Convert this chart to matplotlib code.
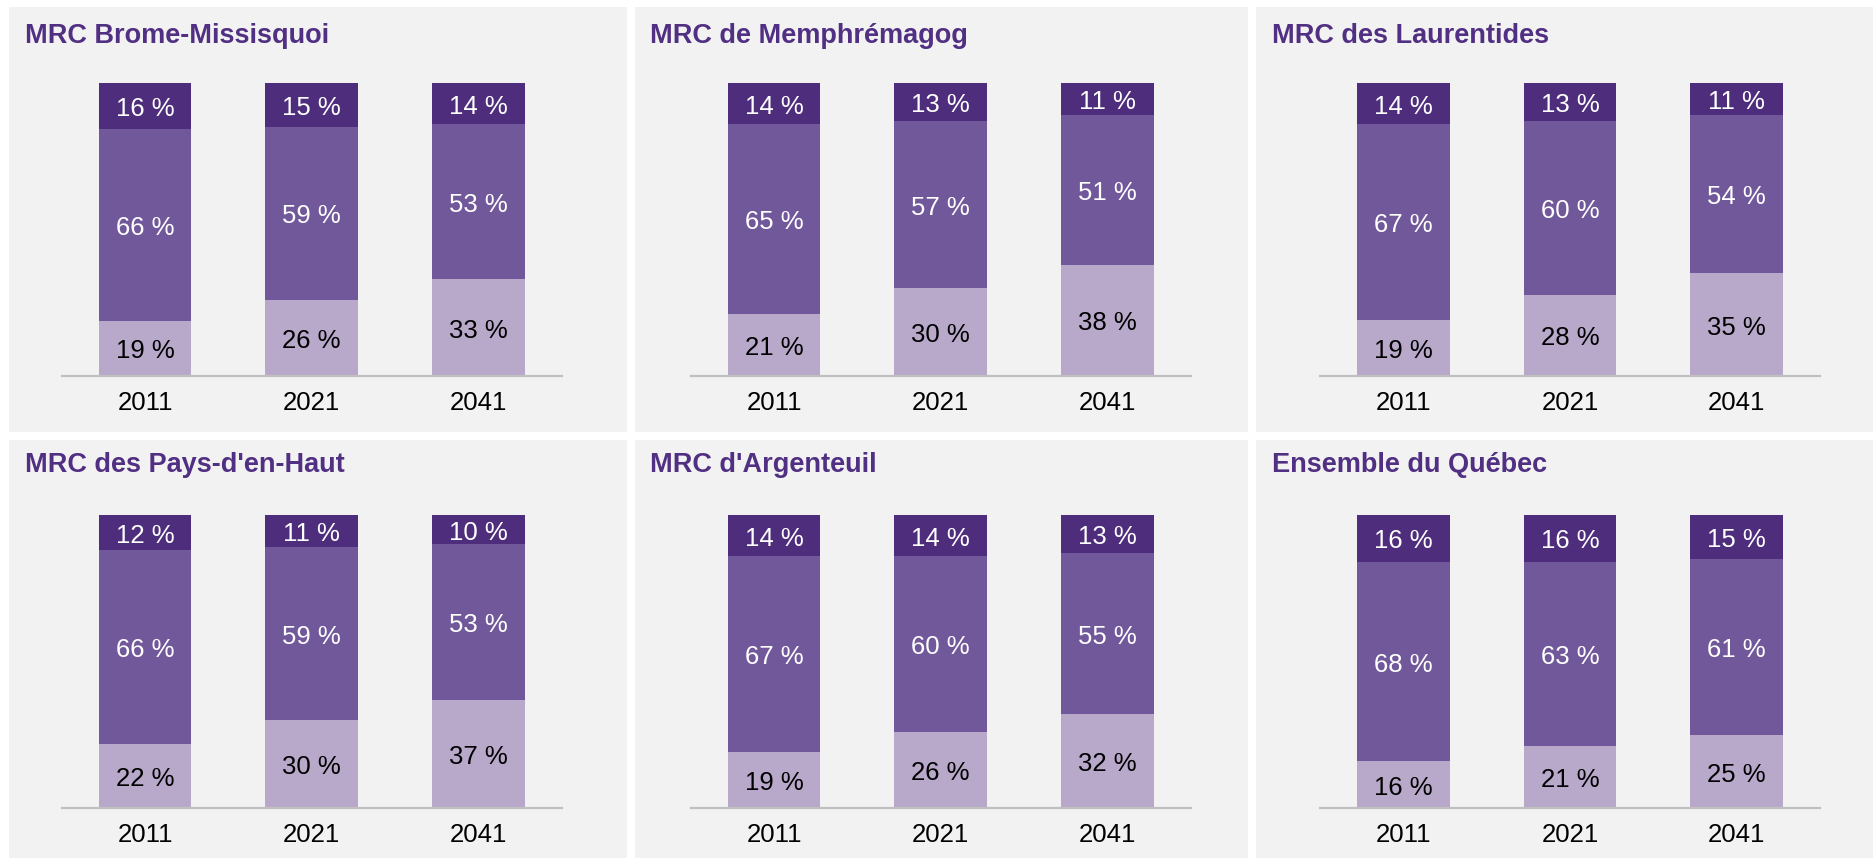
import numpy as np
import matplotlib
matplotlib.use("Agg")
import matplotlib.pyplot as plt
from matplotlib.transforms import offset_copy

plt.rcParams['font.family'] = ['Liberation Sans', 'DejaVu Sans']

# data (percent of population per age group)
years = ['2011', '2021', '2041']
regions = ['MRC Brome-Missisquoi', 'MRC de Memphrémagog', 'MRC des Laurentides',
           "MRC des Pays-d'en-Haut", "MRC d'Argenteuil", 'Ensemble du Québec']
low = [[19, 26, 33], [21, 30, 38], [19, 28, 35],
       [22, 30, 37], [19, 26, 32], [16, 21, 25]]
mid = [[66, 59, 53], [65, 57, 51], [67, 60, 54],
       [66, 59, 53], [67, 60, 55], [68, 63, 61]]
top = [[16, 15, 14], [14, 13, 11], [14, 13, 11],
       [12, 11, 10], [14, 14, 13], [16, 16, 15]]

c_low = '#b8a9cb'
c_mid = '#71589a'
c_top = '#4d2d7c'
c_title = '#512f82'
c_bg = '#f2f2f2'

W, H = 1875, 858
fig = plt.figure(figsize=(W / 100, H / 100), dpi=100)
fig.patch.set_facecolor('white')

# panel boxes in pixels (left, right) / (top, bottom)
cols = [(9.3, 626.7), (635, 1248), (1256, 1873)]
rows = [(6.7, 431.7), (440, 858)]
plot_left = [61.7, 690.7, 1320]  # where the baseline starts in each column
plot_w = 500
baselines = [376, 808]
plot_h = 293
title_base = [43.3, 471.7]

for i, name in enumerate(regions):
    r, c = divmod(i, 3)
    x0, x1 = cols[c]
    y0, y1 = rows[r]
    bg = fig.add_axes([x0 / W, 1 - y1 / H, (x1 - x0) / W, (y1 - y0) / H])
    bg.set_facecolor(c_bg)
    bg.set_xticks([])
    bg.set_yticks([])
    for s in bg.spines.values():
        s.set_visible(False)

    fig.text((x0 + 15.5) / W, 1 - title_base[r] / H, name, color=c_title,
             fontsize=19.5, fontweight='bold', ha='left', va='baseline')

    ax = fig.add_axes([plot_left[c] / W, 1 - baselines[r] / H,
                       plot_w / W, plot_h / H])
    ax.patch.set_alpha(0)

    lo = np.array(low[i], float)
    md = np.array(mid[i], float)
    tp = np.array(top[i], float)
    tot = lo + md + tp
    # 100% stacked: scale each bar so it fills the axis
    h_lo = lo / tot * 100
    h_md = md / tot * 100
    h_tp = tp / tot * 100
    x = np.arange(len(years))
    w = 0.555
    ax.bar(x, h_lo, w, color=c_low)
    ax.bar(x, h_md, w, bottom=h_lo, color=c_mid)
    ax.bar(x, h_tp, w, bottom=h_lo + h_md, color=c_top)

    # labels sit a touch below the segment middle, like the original
    tr = offset_copy(ax.transData, fig=fig, x=0, y=-2.2, units='points')
    for j in range(len(years)):
        ax.text(x[j], h_lo[j] / 2, f"{low[i][j]} %", ha='center', va='center',
                fontsize=18.5, color='black', transform=tr)
        ax.text(x[j], h_lo[j] + h_md[j] / 2, f"{mid[i][j]} %", ha='center',
                va='center', fontsize=18.5, color='white', transform=tr)
        ax.text(x[j], h_lo[j] + h_md[j] + h_tp[j] / 2, f"{top[i][j]} %",
                ha='center', va='center', fontsize=18.5, color='white', transform=tr)

    ax.set_xlim(-0.5, 2.5)
    ax.set_ylim(0, 100)
    ax.set_xticks(x)
    ax.set_xticklabels(years, fontsize=18.5)
    ax.tick_params(axis='x', length=0, pad=11)
    ax.set_yticks([])
    for s in ['top', 'left', 'right']:
        ax.spines[s].set_visible(False)
    ax.spines['bottom'].set_color('#c0c0c0')
    ax.spines['bottom'].set_linewidth(1.6)

fig.savefig('out.png', dpi=100, facecolor='white')
